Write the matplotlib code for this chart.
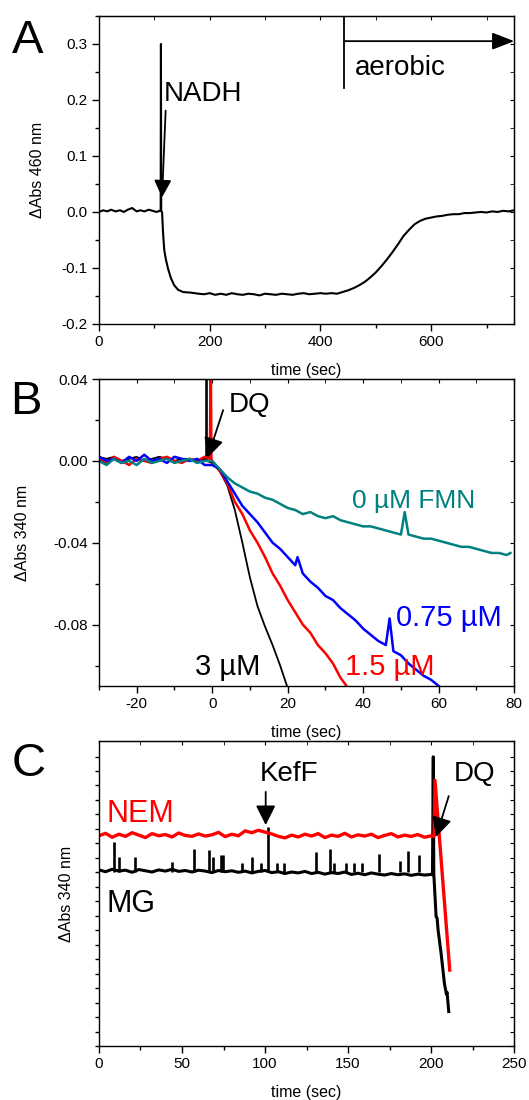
import numpy as np
import matplotlib
matplotlib.use("Agg")
import matplotlib.pyplot as plt
from matplotlib.ticker import MultipleLocator, NullFormatter, FixedLocator

plt.rcParams['font.family'] = ['Liberation Sans', 'DejaVu Sans']
plt.rcParams['axes.unicode_minus'] = False

# ---- panel A : NADH addition then aerobic, abs 460 nm
a_time = [0, 8, 15, 22, 30, 38, 45, 52, 60, 68, 75, 82, 90, 97, 104, 110,
          111.5, 112, 112.5, 114,
          116, 118, 121, 125, 130, 136, 143, 152, 165, 180,
          190, 200, 210, 220, 230, 240, 250, 260, 270, 280, 290, 300, 310,
          320, 330, 340, 350, 360, 370, 380, 390, 400, 410, 420, 430, 440,
          450, 460, 470, 480, 490, 500, 510, 520, 530, 540, 550, 560, 570,
          580, 590, 600, 610, 620, 630, 640, 650, 660, 670, 680, 690, 700,
          710, 720, 730, 740, 750]
a_abs = [0.000, 0.003, 0.001, 0.004, 0.001, 0.003, 0.000, 0.004, 0.007, 0.001,
         0.003, 0.001, 0.004, 0.002, 0.000, 0.002,
         0.002, 0.300, 0.002, 0.000,
         -0.040, -0.068, -0.085, -0.102, -0.118, -0.131, -0.139, -0.143, -0.144, -0.146,
         -0.147, -0.145, -0.148, -0.146, -0.148, -0.145, -0.147, -0.148, -0.146,
         -0.147, -0.149, -0.146, -0.147, -0.148, -0.146, -0.147, -0.148, -0.146,
         -0.145, -0.147, -0.146, -0.145, -0.146, -0.145, -0.146, -0.143,
         -0.140, -0.136, -0.131, -0.125, -0.117, -0.108, -0.097, -0.085, -0.072,
         -0.058, -0.043, -0.032, -0.022, -0.016, -0.012, -0.010, -0.008, -0.007,
         -0.005, -0.004, -0.004, -0.002, -0.002, -0.001, 0.000, -0.001, 0.001,
         0.000, 0.002, 0.001, 0.003]

# ---- panel B : DQ reduction at different FMN
pre_t = [-30, -28, -26, -24, -22, -20, -18, -16, -14, -12, -10, -8, -6, -4, -2]
fmn3_t = pre_t + [-1.6, -1.5, -1.4, 0, 2, 4, 6, 8, 10, 12, 14, 16, 18, 20]
fmn3_y = [0.002, 0.001, 0.002, 0.000, 0.001, 0.002, 0.000, 0.001, 0.002, 0.001,
          0.000, 0.001, 0.001, 0.000, 0.001,
          0.001, 0.060, 0.000,
          -0.001, -0.005, -0.012, -0.024, -0.040, -0.057, -0.071, -0.081, -0.090,
          -0.100, -0.111]
fmn15_t = pre_t + [-0.6, -0.4, -0.2, 0, 2, 4, 6, 8, 10, 12, 14, 16, 18, 20,
                   22, 24, 26, 28, 30, 32, 34, 36]
fmn15_y = [0.001, -0.001, 0.002, 0.000, -0.002, 0.001, 0.000, -0.001, 0.001,
           0.002, 0.000, -0.001, 0.001, 0.000, 0.002,
           0.001, 0.060, 0.001,
           0.000, -0.005, -0.011, -0.020, -0.026, -0.034, -0.040, -0.047, -0.055,
           -0.061, -0.068, -0.074, -0.080, -0.084, -0.090, -0.094, -0.099, -0.106,
           -0.111]
fmn075_t = pre_t + [0, 2, 4, 6, 8, 10, 12, 14, 16, 18, 20, 22, 22.6, 24, 26, 28,
                    30, 32, 34, 36, 38, 40, 42, 44, 46, 47, 48, 50, 52, 54, 56,
                    58, 60, 61]
fmn075_y = [0.002, 0.000, 0.001, -0.001, 0.002, 0.000, 0.003, 0.000, 0.001,
            -0.001, 0.002, 0.001, 0.000, 0.001, -0.002,
            -0.002, -0.004, -0.010, -0.016, -0.022, -0.026, -0.030, -0.035,
            -0.040, -0.043, -0.047, -0.051, -0.047, -0.055, -0.059, -0.062,
            -0.066, -0.068, -0.072, -0.075, -0.078, -0.082, -0.085, -0.088,
            -0.090, -0.077, -0.093, -0.095, -0.099, -0.102, -0.105, -0.107,
            -0.110, -0.112]
fmn0_t = pre_t + [0, 2, 4, 6, 8, 10, 12, 14, 16, 18, 20, 22, 24, 26, 28, 30,
                  32, 34, 36, 38, 40, 42, 44, 46, 48, 50, 51, 52, 54, 56, 58,
                  60, 62, 64, 66, 68, 70, 72, 74, 76, 78, 79]
fmn0_y = [0.000, -0.002, 0.001, -0.001, 0.000, -0.002, 0.001, -0.001, 0.000,
          0.001, -0.001, 0.000, 0.001, -0.001, 0.000,
          0.000, -0.004, -0.008, -0.011, -0.013, -0.015, -0.016, -0.018, -0.019,
          -0.021, -0.023, -0.024, -0.026, -0.025, -0.027, -0.028, -0.027,
          -0.029, -0.030, -0.031, -0.032, -0.032, -0.033, -0.034, -0.035,
          -0.036, -0.025,
          -0.036, -0.037, -0.038, -0.038, -0.039, -0.040, -0.041, -0.042,
          -0.042, -0.043, -0.044, -0.045, -0.045, -0.046, -0.045]

# ---- panel C : NEM / MG treated KefF, arbitrary abs units
c_time = list(range(0, 201, 4))
nem_y = [0.690, 0.698, 0.685, 0.695, 0.688, 0.700, 0.692, 0.684, 0.697, 0.690,
         0.694, 0.686, 0.699, 0.691, 0.688, 0.696, 0.689, 0.693, 0.701, 0.687,
         0.695, 0.690, 0.706, 0.700, 0.708, 0.702, 0.696, 0.688, 0.683, 0.692,
         0.686, 0.695, 0.689, 0.697, 0.684, 0.692, 0.688, 0.698, 0.686, 0.693,
         0.689, 0.695, 0.684, 0.691, 0.697, 0.686, 0.692, 0.688, 0.694, 0.685,
         0.690]
nem_dq_t = [201.8, 202.3, 211.2]
nem_dq_y = [0.688, 0.872, 0.249]
mg_y = [0.578, 0.572, 0.580, 0.574, 0.577, 0.570, 0.579, 0.575, 0.571, 0.578,
        0.574, 0.580, 0.573, 0.576, 0.571, 0.577, 0.574, 0.569, 0.576, 0.572,
        0.575, 0.570, 0.574, 0.568, 0.573, 0.576, 0.569, 0.572, 0.566, 0.571,
        0.568, 0.573, 0.566, 0.570, 0.564, 0.569, 0.566, 0.571, 0.563, 0.567,
        0.562, 0.568, 0.564, 0.561, 0.566, 0.562, 0.565, 0.560, 0.564, 0.561,
        0.563]
mg_dq_t = [200.8, 201.3, 201.6, 203.0, 203.6, 204.2, 206.0, 208.0, 209.2, 209.6, 210.6]
mg_dq_y = [0.562, 0.949, 0.566, 0.424, 0.420, 0.380, 0.304, 0.205, 0.170, 0.176, 0.113]
mg_spike_t = [8.9, 11.8, 21.5, 43.8, 57.0, 66.5, 68.5, 73.2, 74.6, 86.4, 92.0,
              97.5, 101.6, 107.0, 111.7, 130.6, 139.0, 141.7, 149.0, 153.7,
              158.4, 168.5, 181.0, 186.3, 192.4, 200.5]
mg_spike_top = [0.670, 0.621, 0.621, 0.604, 0.645, 0.643, 0.621, 0.626, 0.626,
                0.600, 0.621, 0.600, 0.719, 0.600, 0.600, 0.637, 0.647, 0.600,
                0.600, 0.600, 0.600, 0.630, 0.607, 0.640, 0.628, 0.601]
c_yticks = [0.0475 * i for i in range(21)]

TICK_FS = 11
LABEL_FS = 11.5
NOTE_FS = 20
LETTER_FS = 34


def style_axes(ax, xmaj, xmin, ymaj_loc, ymin_loc, ylabels=True):
    ax.xaxis.set_major_locator(MultipleLocator(xmaj))
    ax.xaxis.set_minor_locator(MultipleLocator(xmin))
    ax.yaxis.set_major_locator(ymaj_loc)
    if ymin_loc is not None:
        ax.yaxis.set_minor_locator(ymin_loc)
    ax.tick_params(which='major', direction='out', length=5, width=1,
                   labelsize=TICK_FS, pad=3)
    ax.tick_params(which='minor', direction='out', length=3, width=1)
    if not ylabels:
        ax.yaxis.set_major_formatter(NullFormatter())
        ax.tick_params(axis='y', which='major', length=3)
    for sp in ax.spines.values():
        sp.set_linewidth(1)
    # mirrored inward ticks on top / right
    top = ax.secondary_xaxis('top')
    top.xaxis.set_major_locator(MultipleLocator(xmaj))
    top.xaxis.set_minor_locator(MultipleLocator(xmin))
    top.tick_params(which='both', direction='in', length=3, labeltop=False)
    right = ax.secondary_yaxis('right')
    right.yaxis.set_major_locator(ymaj_loc)
    if ymin_loc is not None:
        right.yaxis.set_minor_locator(ymin_loc)
    right.tick_params(which='both', direction='in', length=3, labelright=False)


fig = plt.figure(figsize=(5.29, 11), dpi=100)

# ---------------- A
axA = fig.add_axes([0.187, 0.7055, 0.785, 0.28])
axA.plot(a_time, a_abs, color='black', lw=1.5)
axA.set_xlim(0, 750)
axA.set_ylim(-0.2, 0.35)
style_axes(axA, 200, 100, FixedLocator([-0.2, -0.1, 0.0, 0.1, 0.2, 0.3]),
           FixedLocator([-0.15, -0.05, 0.05, 0.15, 0.25, 0.35]))
axA.set_xlabel('time (sec)', fontsize=LABEL_FS, labelpad=10)
axA.set_ylabel('ΔAbs 460 nm', fontsize=LABEL_FS)
axA.yaxis.set_label_coords(-0.13, 0.5)

axA.text(117.6, 0.199, 'NADH', fontsize=NOTE_FS, ha='left', va='baseline')
axA.annotate('', xy=(114, 0.026), xytext=(120.5, 0.181),
             arrowprops=dict(arrowstyle='-|>,head_length=0.7,head_width=0.35',
                             mutation_scale=15, lw=1.3, color='black',
                             shrinkA=0, shrinkB=0))
axA.plot([442.8, 442.8], [0.35, 0.222], color='black', lw=1.3)
axA.annotate('', xy=(750, 0.305), xytext=(442.8, 0.305),
             arrowprops=dict(arrowstyle='-|>,head_length=0.9,head_width=0.35',
                             mutation_scale=15, lw=1.3, color='black',
                             shrinkA=0, shrinkB=0), annotation_clip=False)
axA.text(463, 0.244, 'aerobic', fontsize=NOTE_FS, ha='left', va='baseline')
fig.text(12 / 529, 1 - 53 / 1100, 'A', fontsize=LETTER_FS, ha='left', va='baseline')

# ---------------- B
axB = fig.add_axes([0.187, 0.3764, 0.785, 0.279])
axB.plot(fmn3_t, fmn3_y, color='black', lw=1.3)
axB.plot(fmn15_t, fmn15_y, color='#ff0000', lw=1.8)
axB.plot(fmn075_t, fmn075_y, color='#0000ff', lw=1.8)
axB.plot(fmn0_t, fmn0_y, color='#008080', lw=1.8)
axB.set_xlim(-30, 80)
axB.set_ylim(-0.11, 0.04)
style_axes(axB, 20, 10, FixedLocator([-0.08, -0.04, 0.0, 0.04]),
           FixedLocator([-0.1, -0.06, -0.02, 0.02]))
axB.set_yticklabels(['-0.08', '-0.04', '0.00', '0.04'])
axB.set_xlabel('time (sec)', fontsize=LABEL_FS, labelpad=10)
axB.set_ylabel('ΔAbs 340 nm', fontsize=LABEL_FS)
axB.yaxis.set_label_coords(-0.165, 0.5)

axB.text(4.3, 0.0237, 'DQ', fontsize=NOTE_FS, ha='left', va='baseline')
axB.annotate('', xy=(-1.2, 0.0016), xytext=(2.9, 0.0248),
             arrowprops=dict(arrowstyle='-|>,head_length=0.8,head_width=0.4',
                             mutation_scale=15, lw=1.3, color='black',
                             shrinkA=0, shrinkB=0))
axB.text(37.1, -0.0229, '0 µM FMN', fontsize=19, color='#008080',
         ha='left', va='baseline')
axB.text(48.7, -0.0808, '0.75 µM', fontsize=21, color='#0000ff',
         ha='left', va='baseline')
axB.text(35.3, -0.1045, '1.5 µM', fontsize=21, color='#ff0000',
         ha='left', va='baseline')
axB.text(-4.5, -0.1045, '3 µM', fontsize=21, color='black',
         ha='left', va='baseline')
fig.text(10 / 529, 1 - 414 / 1100, 'B', fontsize=LETTER_FS, ha='left', va='baseline')

# ---------------- C
axC = fig.add_axes([0.187, 0.0491, 0.785, 0.277])
axC.plot(c_time + mg_dq_t, mg_y + mg_dq_y, color='black', lw=2.2)
axC.vlines(mg_spike_t, 0.57, mg_spike_top, color='black', lw=1.9)
axC.plot(c_time + nem_dq_t, nem_y + nem_dq_y, color='#ff0000', lw=2.4)
axC.set_xlim(0, 250)
axC.set_ylim(0, 1)
style_axes(axC, 50, 25, FixedLocator(c_yticks), None, ylabels=False)
axC.set_xlabel('time (sec)', fontsize=LABEL_FS, labelpad=10)
axC.set_ylabel('ΔAbs 340 nm', fontsize=LABEL_FS)
axC.yaxis.set_label_coords(-0.06, 0.5)

axC.text(4.7, 0.7355, 'NEM', fontsize=22, color='#ff0000', ha='left', va='baseline')
axC.text(4.7, 0.440, 'MG', fontsize=22, color='black', ha='left', va='baseline')
axC.text(96.8, 0.870, 'KefF', fontsize=NOTE_FS, ha='left', va='baseline')
axC.annotate('', xy=(100.4, 0.725), xytext=(100.4, 0.834),
             arrowprops=dict(arrowstyle='-|>,head_length=0.8,head_width=0.4',
                             mutation_scale=15, lw=1.3, color='black',
                             shrinkA=0, shrinkB=0))
axC.text(213.7, 0.870, 'DQ', fontsize=NOTE_FS, ha='left', va='baseline')
axC.annotate('', xy=(202.9, 0.686), xytext=(210.6, 0.820),
             arrowprops=dict(arrowstyle='-|>,head_length=0.8,head_width=0.4',
                             mutation_scale=15, lw=1.3, color='black',
                             shrinkA=0, shrinkB=0))
fig.text(12 / 529, 1 - 776 / 1100, 'C', fontsize=LETTER_FS, ha='left', va='baseline')

fig.savefig('out.png', dpi=100)
